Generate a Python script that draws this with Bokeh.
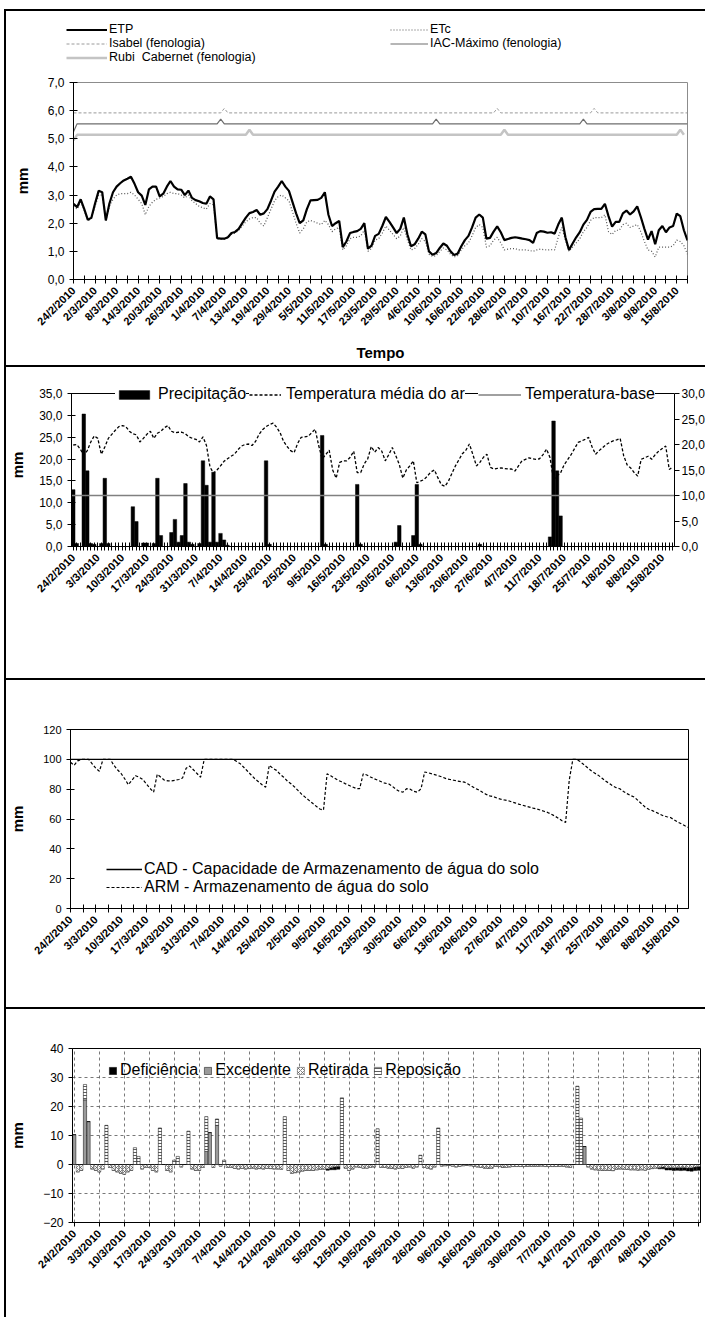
import math
from bokeh.plotting import figure
from bokeh.models import (Range1d, LinearAxis, FixedTicker, CustomJSTickFormatter,
                          Legend, LegendItem, Span)
from bokeh.layouts import column
from bokeh.embed import file_html
from bokeh.resources import INLINE

FONT = "Liberation Sans"

# ---------------- tick labels ----------------
labels_p1 = ["24/2/2010", "2/3/2010", "8/3/2010", "14/3/2010", "20/3/2010", "26/3/2010",
             "1/4/2010", "7/4/2010", "13/4/2010", "19/4/2010", "29/4/2010", "5/5/2010",
             "11/5/2010", "17/5/2010", "23/5/2010", "29/5/2010", "4/6/2010", "10/6/2010",
             "16/6/2010", "22/6/2010", "28/6/2010", "4/7/2010", "10/7/2010", "16/7/2010",
             "22/7/2010", "28/7/2010", "3/8/2010", "9/8/2010", "15/8/2010"]
labels_p23 = ["24/2/2010", "3/3/2010", "10/3/2010", "17/3/2010", "24/3/2010", "31/3/2010",
              "7/4/2010", "14/4/2010", "25/4/2010", "2/5/2010", "9/5/2010", "16/5/2010",
              "23/5/2010", "30/5/2010", "6/6/2010", "13/6/2010", "20/6/2010", "27/6/2010",
              "4/7/2010", "11/7/2010", "18/7/2010", "25/7/2010", "1/8/2010", "8/8/2010",
              "15/8/2010"]
labels_p4 = ["24/2/2010", "3/3/2010", "10/3/2010", "17/3/2010", "24/3/2010", "31/3/2010",
             "7/4/2010", "14/4/2010", "21/4/2010", "28/4/2010", "5/5/2010", "12/5/2010",
             "19/5/2010", "26/5/2010", "2/6/2010", "9/6/2010", "16/6/2010", "23/6/2010",
             "30/6/2010", "7/7/2010", "14/7/2010", "21/7/2010", "28/7/2010", "4/8/2010",
             "11/8/2010"]

# ---------------- panel 1: ETP / ETc (mm) ----------------
etp = [2.69, 2.57, 2.85, 2.50, 2.12, 2.20, 2.70, 3.15, 3.10, 2.10,
       2.70, 3.10, 3.30, 3.42, 3.52, 3.58, 3.65, 3.40, 3.10, 2.98,
       2.65, 3.20, 3.30, 3.30, 2.95, 3.05, 3.30, 3.50, 3.30, 3.20,
       3.19, 3.00, 3.16, 2.90, 2.82, 2.78, 2.72, 2.69, 2.95, 2.85,
       1.47, 1.45, 1.45, 1.50, 1.65, 1.69, 1.80, 2.00, 2.20, 2.36,
       2.40, 2.47, 2.30, 2.35, 2.50, 2.80, 3.12, 3.30, 3.50, 3.30,
       3.15, 2.75, 2.35, 2.00, 2.10, 2.50, 2.81, 2.82, 2.83, 2.90,
       3.10, 2.30, 1.90, 2.00, 2.08, 1.15, 1.35, 1.65, 1.69, 1.72,
       1.80, 2.00, 1.10, 1.20, 1.55, 1.62, 1.90, 2.22, 2.05, 1.85,
       1.65, 1.80, 2.20, 1.60, 1.18, 1.25, 1.45, 1.70, 1.60, 1.00,
       0.88, 0.94, 1.12, 1.28, 1.20, 1.00, 0.87, 0.92, 1.18, 1.40,
       1.55, 1.85, 2.20, 2.31, 2.20, 1.45, 1.48, 1.70, 1.89, 1.68,
       1.40, 1.44, 1.48, 1.50, 1.48, 1.45, 1.43, 1.40, 1.30, 1.65,
       1.72, 1.70, 1.66, 1.68, 1.63, 1.95, 2.20, 1.50, 1.05, 1.28,
       1.50, 1.68, 1.95, 2.12, 2.40, 2.50, 2.51, 2.51, 2.69, 2.25,
       1.88, 2.05, 2.05, 2.35, 2.45, 2.31, 2.42, 2.60, 2.22, 1.80,
       1.42, 1.72, 1.25, 1.75, 1.90, 1.68, 1.85, 1.90, 2.34, 2.25,
       1.75, 1.39]
etc = [2.60, 2.50, 2.75, 2.45, 2.10, 2.15, 2.60, 3.00, 3.00, 2.10,
       2.60, 2.85, 3.00, 3.05, 3.05, 3.05, 3.10, 3.00, 2.85, 2.70,
       2.30, 2.60, 2.75, 2.85, 2.90, 2.95, 3.05, 3.10, 3.05, 3.05,
       3.00, 2.90, 3.00, 2.80, 2.70, 2.60, 2.55, 2.50, 2.70, 2.65,
       1.45, 1.43, 1.43, 1.48, 1.60, 1.65, 1.75, 1.90, 2.05, 2.15,
       2.20, 2.20, 2.00, 1.90, 2.20, 2.50, 2.80, 2.95, 3.00, 2.90,
       2.80, 2.40, 2.00, 1.65, 1.80, 2.05, 2.10, 2.05, 2.00, 1.95,
       2.10, 1.95, 1.70, 1.80, 1.85, 1.05, 1.20, 1.45, 1.50, 1.50,
       1.55, 1.75, 1.00, 1.10, 1.40, 1.45, 1.65, 1.90, 1.75, 1.60,
       1.45, 1.55, 1.85, 1.40, 1.05, 1.10, 1.25, 1.45, 1.35, 0.90,
       0.82, 0.85, 1.00, 1.12, 1.05, 0.90, 0.80, 0.85, 1.05, 1.20,
       1.30, 1.55, 1.85, 1.95, 1.85, 1.15, 1.20, 1.40, 1.50, 1.30,
       1.05, 1.08, 1.10, 1.10, 1.05, 1.05, 1.05, 1.03, 1.00, 1.05,
       1.08, 1.06, 1.05, 1.06, 1.05, 1.50, 1.85, 1.40, 1.00, 1.15,
       1.30, 1.45, 1.70, 1.85, 2.10, 2.20, 2.20, 2.20, 2.30, 1.70,
       1.60, 1.75, 1.75, 1.95, 2.00, 1.85, 1.90, 1.95, 1.70, 1.35,
       1.05, 1.00, 0.80, 1.15, 1.15, 1.15, 1.15, 1.20, 1.40, 1.35,
       1.20, 0.90]
# phenology reference lines (day index, value)
isabel_day = [0, 41, 42, 43, 117, 118, 119, 144, 145, 146, 171]
isabel_val = [5.92, 5.92, 6.08, 5.92, 5.92, 6.08, 5.92, 5.92, 6.08, 5.92, 5.92]
iac_day = [0, 1, 40, 41, 42, 100, 101, 102, 141, 142, 143, 171]
iac_val = [5.25, 5.53, 5.53, 5.70, 5.53, 5.53, 5.70, 5.53, 5.53, 5.70, 5.53, 5.53]
rubi_day = [0, 1, 48, 49, 50, 119, 120, 121, 168, 169, 170]
rubi_val = [4.95, 5.14, 5.14, 5.32, 5.14, 5.14, 5.32, 5.14, 5.14, 5.32, 5.14]

# ---------------- panel 2: precipitation (mm) and temperature (°C) ----------------
precip = [13.0, 0.7, 0.0, 30.3, 17.3, 0.7, 0.5, 0.0, 0.7, 15.6,
          0.7, 0.0, 0.0, 0.0, 0.0, 0.0, 0.0, 9.1, 5.7, 0.0,
          0.8, 0.8, 0.0, 0.7, 15.6, 2.5, 0.0, 0.0, 3.2, 6.2,
          1.0, 2.5, 14.4, 1.0, 0.5, 0.0, 0.7, 19.6, 14.0, 1.0,
          17.0, 1.0, 3.0, 1.5, 0.3, 0.0, 0.0, 0.0, 0.0, 0.0,
          0.0, 0.0, 0.0, 0.0, 0.0, 19.6, 0.5, 0.0, 0.0, 0.0,
          0.0, 0.0, 0.0, 0.0, 0.0, 0.0, 0.0, 0.0, 0.0, 0.0,
          0.0, 25.4, 0.5, 0.0, 0.0, 0.0, 0.0, 0.0, 0.0, 0.0,
          0.0, 14.2, 0.5, 0.0, 0.0, 0.0, 0.0, 0.0, 0.0, 0.0,
          0.0, 0.0, 1.0, 4.8, 0.0, 0.0, 0.0, 2.5, 14.2, 0.5,
          0.0, 0.0, 0.0, 0.0, 0.0, 0.0, 0.0, 0.0, 0.0, 0.0,
          0.0, 0.0, 0.0, 0.0, 0.0, 0.0, 0.5, 0.0, 0.0, 0.0,
          0.0, 0.0, 0.0, 0.0, 0.0, 0.0, 0.0, 0.0, 0.0, 0.0,
          0.0, 0.0, 0.0, 0.0, 0.0, 0.0, 2.2, 28.7, 17.3, 7.0,
          0.0, 0.0, 0.0, 0.0, 0.0, 0.0, 0.0, 0.0, 0.0, 0.0,
          0.0, 0.0, 0.0, 0.0, 0.0, 0.0, 0.0, 0.0, 0.0, 0.0,
          0.0, 0.0, 0.0, 0.0, 0.0, 0.0, 0.0, 0.0, 0.0, 0.0,
          0.0, 0.0]
temp = [19.9, 20.0, 19.1, 17.9, 18.8, 20.5, 21.7, 21.2, 18.1, 19.5,
        21.2, 22.0, 22.8, 23.5, 23.7, 23.5, 22.6, 22.1, 21.9, 20.5,
        21.2, 22.0, 22.6, 21.2, 22.2, 22.6, 23.3, 23.7, 22.6, 22.3,
        22.4, 22.4, 22.1, 21.5, 21.2, 21.0, 20.5, 21.5, 19.8, 15.6,
        14.4, 15.0, 15.8, 16.7, 17.2, 17.7, 18.1, 19.0, 19.7, 20.0,
        20.1, 19.8, 20.6, 22.0, 22.9, 23.5, 23.9, 24.2, 23.4, 22.3,
        20.6, 19.6, 18.8, 18.4, 20.2, 21.4, 21.5, 21.6, 22.3, 23.0,
        19.8, 17.2, 18.0, 18.9, 15.0, 13.4, 16.5, 16.8, 16.8, 17.5,
        18.7, 14.5, 14.5, 16.2, 17.2, 19.6, 18.5, 19.4, 18.7, 16.8,
        18.0, 19.4, 17.8, 16.1, 13.4, 15.0, 15.8, 16.8, 12.5, 12.8,
        13.1, 13.8, 14.6, 15.0, 13.5, 12.1, 11.8, 12.8, 14.3, 15.8,
        17.0, 18.2, 18.9, 20.1, 18.0, 15.8, 16.5, 17.5, 18.1, 15.5,
        15.2, 15.3, 15.4, 15.3, 15.2, 15.2, 14.8, 15.8, 16.8, 17.1,
        17.4, 17.2, 17.1, 17.2, 18.0, 19.1, 17.4, 13.1, 13.9, 14.4,
        16.0, 17.0, 18.0, 19.2, 20.4, 20.7, 21.0, 21.4, 19.5, 18.1,
        18.8, 19.4, 20.0, 20.4, 20.7, 20.9, 21.2, 17.8, 16.0, 15.4,
        14.5, 13.8, 17.1, 17.4, 17.7, 17.1, 18.0, 18.7, 19.2, 19.7,
        15.1, 15.6]
temp_base = 10.0

# ---------------- panel 3: soil water storage (mm) ----------------
cad = 100.0
arm = [98.0, 96.0, 99.0, 100.0, 100.0, 100.0, 97.0, 94.0, 92.0, 100.0,
       100.0, 100.0, 96.0, 93.0, 90.5, 87.0, 83.0, 86.0, 89.0, 88.0,
       86.5, 83.5, 80.5, 78.0, 90.0, 88.0, 86.0, 85.5, 85.5, 86.0,
       86.5, 87.5, 94.0, 95.5, 93.0, 90.5, 88.0, 100.0, 100.0, 100.0,
       100.0, 100.0, 100.0, 100.0, 100.0, 100.0, 98.5, 97.0, 94.5, 92.0,
       89.5, 87.0, 85.0, 83.0, 81.3, 96.0, 94.0, 92.6, 90.0, 88.0,
       85.5, 83.6, 81.5, 79.0, 76.5, 74.5, 72.5, 70.5, 68.5, 66.7,
       66.0, 90.3, 89.0, 87.5, 86.0, 85.0, 83.7, 82.6, 81.5, 80.5,
       80.3, 90.3, 89.5, 88.2, 87.0, 86.0, 85.0, 84.0, 83.6, 82.0,
       80.0, 78.5, 78.0, 80.3, 80.0, 78.5, 78.0, 80.3, 91.5, 91.0,
       90.3, 89.6, 88.8, 88.0, 87.0, 86.5, 86.0, 85.5, 85.0, 84.7,
       83.5, 82.0, 80.5, 79.5, 78.0, 76.5, 75.5, 75.0, 74.0, 73.3,
       72.8, 72.4, 71.5, 70.8, 70.0, 69.3, 68.6, 68.0, 67.3, 66.7,
       66.0, 65.2, 64.4, 63.3, 62.0, 60.5, 58.8, 57.7, 86.0, 100.0,
       100.0, 98.5, 96.5, 94.5, 92.5, 90.8, 89.4, 87.5, 85.5, 84.0,
       82.3, 81.0, 80.3, 78.5, 77.0, 75.7, 74.7, 72.5, 70.2, 68.0,
       66.5, 65.6, 64.5, 63.3, 62.2, 61.5, 61.0, 59.5, 58.0, 56.8,
       55.5, 54.3]

# ---------------- panel 4: water balance components (mm), every day 24/2 - 18/8 ----------------
excedente = [10.3, 0, 0, 22.3, 14.8, 0, 0, 0, 0, 0,
             0, 0, 0, 0, 0, 0, 0, 0, 0, 0,
             0, 0, 0, 0, 0, 0, 0, 0, 0, 0,
             0, 0, 0, 0, 0, 0, 0, 4.5, 11.0, 0,
             13.5, 0, 0, 0, 0, 0, 0, 0, 0, 0,
             0, 0, 0, 0, 0, 0, 0, 0, 0, 0, 0, 0, 0, 0,
             0, 0, 0, 0, 0, 0, 0, 0, 0, 0,
             0, 0, 0, 0, 0, 0, 0, 0, 0, 0,
             0, 0, 0, 0, 0, 0, 0, 0, 0, 0,
             0, 0, 0, 0, 0, 0, 0, 0, 0, 0,
             0, 0, 0, 0, 0, 0, 0, 0, 0, 0,
             0, 0, 0, 0, 0, 0, 0, 0, 0, 0,
             0, 0, 0, 0, 0, 0, 0, 0, 0, 0,
             0, 0, 0, 0, 0, 0, 0, 0, 0, 6.2,
             0, 0, 0, 0, 0, 0, 0, 0, 0, 0,
             0, 0, 0, 0, 0, 0, 0, 0, 0, 0,
             0, 0, 0, 0, 0, 0, 0, 0, 0, 0,
             0, 0]
reposicao = [0, 0, 0, 5.3, 0, 0, 0, 0, 0, 13.5,
             0, 0, 0, 0, 0, 0, 0, 5.8, 2.8, 0,
             0, 0, 0, 0, 12.6, 0, 0, 0, 1.5, 2.8,
             0, 0, 11.5, 0, 0, 0, 0, 12.0, 0, 0,
             2.2, 0, 1.5, 0, 0, 0, 0, 0, 0, 0,
             0, 0, 0, 0, 0, 0, 0, 0, 0, 16.5, 0, 0, 0, 0,
             0, 0, 0, 0, 0, 0, 0, 0, 0, 0,
             0, 23.0, 0, 0, 0, 0, 0, 0, 0, 0,
             0, 12.3, 0, 0, 0, 0, 0, 0, 0, 0,
             0, 0, 0, 3.2, 0, 0, 0, 0, 12.6, 0,
             0, 0, 0, 0, 0, 0, 0, 0, 0, 0,
             0, 0, 0, 0, 0, 0, 0, 0, 0, 0,
             0, 0, 0, 0, 0, 0, 0, 0, 0, 0,
             0, 0, 0, 0, 0, 0, 0, 27.0, 16.0, 0,
             0, 0, 0, 0, 0, 0, 0, 0, 0, 0,
             0, 0, 0, 0, 0, 0, 0, 0, 0, 0,
             0, 0, 0, 0, 0, 0, 0, 0, 0, 0,
             0, 0]
retirada = [0, -2.5, -2.0, 0, 0, -1.5, -2.0, -2.5, -1.5, 0,
            -1.0, -2.0, -2.5, -3.0, -3.3, -2.5, -2.0, 0, 0, -1.5,
            -1.0, -1.0, -2.0, -2.5, 0, 0, -2.0, -2.5, 0, 0,
            -0.8, 0, 0, -1.5, -2.0, -2.0, -1.0, 0, 0, -1.0,
            0, -0.5, 0, -1.0, -1.0, -1.3, -1.5, -1.3, -1.5, -1.4,
            -1.2, -1.5, -1.4, -1.5, -1.3, -1.4, -1.5, -1.5, -1.6, 0, -2.0, -3.0, -2.8, -2.5,
            -2.2, -2.0, -2.0, -2.0, -1.8, -1.6, -1.6, -1.5, -1.0, -0.8,
            -0.6, 0, -1.2, -2.0, -1.5, -0.8, -1.0, -1.2, -1.2, -1.0,
            -0.8, 0, -1.0, -1.0, -1.2, -1.3, -1.5, -1.2, -1.3, -1.0,
            -0.8, -1.2, -0.8, 0, -1.0, -1.2, -1.5, -0.8, 0, -0.5,
            -0.4, -0.3, -0.5, -0.8, -0.6, -0.4, -0.3, -0.4, -0.6, -0.8,
            -1.0, -1.2, -1.3, -1.2, -0.6, -0.7, -0.9, -1.0, -0.8, -0.7,
            -0.7, -0.7, -0.7, -0.6, -0.6, -0.6, -0.6, -0.5, -0.7, -0.7,
            -0.7, -0.7, -0.6, -0.6, -0.8, -1.0, 0, 0, 0, 0,
            -0.8, -1.5, -1.8, -1.9, -2.0, -2.0, -2.0, -2.1, -1.6, -1.5,
            -1.6, -1.7, -1.8, -1.8, -1.9, -1.8, -1.9, -1.6, -1.4, -1.2,
            -1.0, -0.9, -1.1, -1.0, -1.1, -1.0, -1.0, -1.0, -1.2, -1.1,
            -0.9, -0.7]
deficiencia = [0, 0, 0, 0, 0, 0, 0, 0, 0, 0,
               0, 0, 0, 0, 0, 0, 0, 0, 0, 0,
               0, 0, 0, 0, 0, 0, 0, 0, 0, 0,
               0, 0, 0, 0, 0, 0, 0, 0, 0, 0,
               0, 0, 0, 0, 0, 0, 0, 0, 0, 0,
               0, 0, 0, 0, 0, 0, 0, 0, 0, 0, 0, 0, 0, 0,
               0, 0, 0, 0, 0, 0, 0, -0.5, -0.8, -1.0,
               -1.0, 0, 0, 0, 0, 0, 0, 0, 0, 0,
               0, 0, 0, 0, 0, 0, 0, 0, 0, 0,
               0, 0, 0, 0, 0, 0, 0, 0, 0, 0,
               0, 0, 0, 0, 0, 0, 0, 0, 0, 0,
               0, 0, 0, 0, 0, 0, 0, 0, 0, 0,
               0, 0, 0, 0, 0, 0, 0, 0, 0, 0,
               0, 0, 0, 0, 0, 0, 0, 0, 0, 0,
               0, 0, 0, 0, 0, 0, 0, 0, 0, 0,
               0, 0, 0, 0, 0, 0, 0, 0, 0, 0,
               -0.5, -0.6, -0.8, -0.9, -1.0, -1.0, -1.1, -1.0, -1.0, -1.2,
               -1.2, -1.3]

N = len(etp)
for name, arr in [("etc", etc), ("precip", precip), ("temp", temp), ("arm", arm)]:
    assert len(arr) == N, (name, len(arr))
days = list(range(N))
N4 = len(retirada)
for name, arr in [("excedente", excedente), ("reposicao", reposicao),
                  ("deficiencia", deficiencia)]:
    assert len(arr) == N4, (name, len(arr))
days4 = list(range(N4))

W = 701
BORDER = "2px solid black"


def date_fmt(labels, step):
    return CustomJSTickFormatter(args=dict(labels=labels, step=step), code="""
        const i = Math.round(tick / step);
        if (Math.abs(tick - i * step) < 1e-6 && i >= 0 && i < labels.length) { return labels[i]; }
        return "";
    """)


def comma_fmt(digits):
    return CustomJSTickFormatter(args=dict(d=digits),
                                 code="return tick.toFixed(d).replace('.', ',');")


def style_axis(ax, fs="11px", tin=4, tout=4, bold=False):
    ax.axis_line_color = "black"
    ax.axis_line_width = 1
    ax.major_tick_line_color = "black"
    ax.minor_tick_line_color = None
    ax.major_tick_in = tin
    ax.major_tick_out = tout
    ax.major_label_text_font = FONT
    ax.major_label_text_font_size = fs
    ax.major_label_text_font_style = "bold" if bold else "normal"
    ax.major_label_text_color = "black"
    ax.axis_label_text_font = FONT
    ax.axis_label_text_font_style = "bold"
    ax.axis_label_text_font_size = "15px"
    ax.axis_label_text_color = "black"


def base_fig(h, xr, yr, left, right, top, bottom, top_border=True):
    p = figure(width=W, height=h, output_backend="svg", toolbar_location=None,
               x_range=xr, y_range=yr, min_border_left=left, min_border_right=right,
               min_border_top=top, min_border_bottom=bottom)
    p.frame_align = False
    st = {"border-left": BORDER}
    if top_border:
        st["border-top"] = BORDER
    p.styles = st
    p.grid.visible = False
    p.background_fill_color = "white"
    p.border_fill_color = "white"
    return p


def make_legend(items, loc, fs, gw, gh, standoff=3, orientation="vertical", spacing=0,
                padding=0, bg=None):
    lg = Legend(items=[LegendItem(label=l, renderers=[r]) for l, r in items],
                location=loc, orientation=orientation)
    lg.label_text_font = FONT
    lg.label_text_font_size = fs
    lg.label_text_color = "black"
    lg.border_line_color = None
    lg.padding = padding
    lg.margin = 0
    lg.spacing = spacing
    lg.label_standoff = standoff
    lg.glyph_width = gw
    lg.glyph_height = gh
    lg.label_height = gh
    if bg is None:
        lg.background_fill_alpha = 0
    else:
        lg.background_fill_color = bg
        lg.background_fill_alpha = 1
    return lg


# ================= Panel 1 (legend strip + chart) =================
p1_leg = figure(width=W, height=60, output_backend="svg", toolbar_location=None,
                x_range=Range1d(0, 1), y_range=Range1d(0, 1),
                x_axis_location=None, y_axis_location=None, min_border=0)
p1_leg.frame_align = False
p1_leg.styles = {"border-left": BORDER, "border-top": BORDER}
p1_leg.grid.visible = False
p1_leg.outline_line_color = None
ETP_STYLE = dict(line_color="black", line_width=2.2)
ETC_STYLE = dict(line_color="#555555", line_width=1.2, line_dash="1 2")
ISA_STYLE = dict(line_color="#9a9a9a", line_width=1, line_dash="3 2")
IAC_STYLE = dict(line_color="#6e6e6e", line_width=1.2)
RUBI_STYLE = dict(line_color="#c4c4c4", line_width=2.5)
# legend proxies: lines lying outside the strip's ranges, only their legend glyphs show
proxy_x, proxy_y = [-3, -2], [-3, -2]
k_etp = p1_leg.line(proxy_x, proxy_y, **ETP_STYLE)
k_etc = p1_leg.line(proxy_x, proxy_y, **ETC_STYLE)
k_isa = p1_leg.line(proxy_x, proxy_y, **ISA_STYLE)
k_iac = p1_leg.line(proxy_x, proxy_y, **IAC_STYLE)
k_rubi = p1_leg.line(proxy_x, proxy_y, **RUBI_STYLE)
for lbl, rr, loc, gw in [("ETP", k_etp, (60, 35), 41),
                         ("Isabel (fenologia)", k_isa, (60, 21), 41),
                         ("Rubi  Cabernet (fenologia)", k_rubi, (60, 7), 41),
                         ("ETc", k_etc, (384, 35), 38),
                         ("IAC-Máximo (fenologia)", k_iac, (384, 21), 38)]:
    p1_leg.add_layout(make_legend([(lbl, rr)], loc, "12.5px", gw, 11, standoff=2))

p1 = base_fig(296, Range1d(0, N - 1), Range1d(0, 7), 67, 20, 13, 86, top_border=False)
p1.outline_line_color = "#8c8c8c"
p1.line(days, etc, **ETC_STYLE)
p1.line(days, etp, **ETP_STYLE)
p1.line(isabel_day, isabel_val, **ISA_STYLE)
p1.line(iac_day, iac_val, **IAC_STYLE)
p1.line(rubi_day, rubi_val, **RUBI_STYLE)
style_axis(p1.xaxis[0], fs="11px", bold=True)
style_axis(p1.yaxis[0], fs="12px")
p1.xaxis.ticker = FixedTicker(ticks=list(range(0, N, 3)))
p1.xaxis.formatter = date_fmt(labels_p1, 6)
p1.xaxis.major_label_orientation = math.pi / 4
p1.xaxis.axis_label = "Tempo"
p1.xaxis.axis_label_standoff = 9
p1.yaxis.ticker = FixedTicker(ticks=list(range(0, 8)))
p1.yaxis.formatter = comma_fmt(1)
p1.yaxis.axis_label = "mm"
p1.yaxis.axis_label_standoff = 14

# ================= Panel 2 =================
P2_H, P2_TOP, P2_BOT, P2_GAP = 313, 16, 134, 10
p2_frame = P2_H - P2_TOP - P2_BOT
p2_scale = p2_frame / (p2_frame - P2_GAP)     # frame extends 10px above the 35 mm line
precip_max, temp_max = 35, 30
p2 = base_fig(P2_H, Range1d(-0.5, N - 0.5), Range1d(0, precip_max * p2_scale), 65, 25,
              P2_TOP, P2_BOT)
p2.outline_line_color = None
p2.extra_y_ranges = {"temp": Range1d(0, temp_max * p2_scale)}
p2.add_layout(Span(location=precip_max, dimension="width", line_color="black", line_width=1))
r_prec = p2.vbar(x=days, top=precip, width=1.0, fill_color="black", line_color="black",
                 line_width=0.5)
r_base = p2.line([days[0] - 0.5, days[-1] + 0.5], [temp_base, temp_base],
                 y_range_name="temp", line_color="#808080", line_width=1.5)
r_temp = p2.line(days, temp, y_range_name="temp", line_color="black", line_width=1.3,
                 line_dash="3 2")
style_axis(p2.xaxis[0], fs="11px", bold=True)
style_axis(p2.yaxis[0], fs="12px")
p2.xaxis.ticker = FixedTicker(ticks=days)
p2.xaxis.formatter = date_fmt(labels_p23, 7)
p2.xaxis.major_label_orientation = math.pi / 4
p2.yaxis.ticker = FixedTicker(ticks=list(range(0, precip_max + 1, 5)))
p2.yaxis.formatter = comma_fmt(1)
p2.yaxis.bounds = (0, precip_max)
p2.yaxis.axis_label = "mm"
p2.yaxis.axis_label_standoff = 10
ax_r = LinearAxis(y_range_name="temp", ticker=FixedTicker(ticks=list(range(0, temp_max + 1, 5))),
                  formatter=comma_fmt(1), bounds=(0, temp_max))
style_axis(ax_r, fs="12px", tin=0, tout=5)
ax_r.major_label_standoff = 2
p2.add_layout(ax_r, "right")
for lbl, rr, vx, gw, so in [("Precipitação", r_prec, 44, 38, 5),
                            ("Temperatura média do ar", r_temp, 178, 32, 5),
                            ("Temperatura-base", r_base, 407, 43, 4)]:
    p2.add_layout(make_legend([(lbl, rr)], (vx, 143), "16px", gw, 11, standoff=so,
                              padding=2, bg="white"))

# ================= Panel 3 =================
p3 = base_fig(329, Range1d(0, N - 1), Range1d(0, 120), 64, 19, 49, 101)
p3.outline_line_color = "black"
r_cad = p3.line([days[0], days[-1]], [cad, cad], line_color="black", line_width=1.3)
r_arm = p3.line(days, arm, line_color="black", line_width=1.2, line_dash="3 2")
style_axis(p3.xaxis[0], fs="11px", bold=True)
style_axis(p3.yaxis[0], fs="11px")
p3.xaxis.ticker = FixedTicker(ticks=[i * 3.5 for i in range(0, 49)])
p3.xaxis.formatter = date_fmt(labels_p23, 7)
p3.xaxis.major_label_orientation = math.pi / 4
p3.yaxis.ticker = FixedTicker(ticks=list(range(0, 121, 20)))
p3.yaxis.axis_label = "mm"
p3.yaxis.axis_label_standoff = 14
p3.add_layout(make_legend([("CAD - Capacidade de Armazenamento de água do solo", r_cad),
                           ("ARM - Armazenamento de água do solo", r_arm)],
                          (36, 12), "16px", 36, 16, standoff=2))

# ================= Panel 4 =================
p4 = base_fig(310, Range1d(-0.5, N4 - 0.5), Range1d(-20, 40), 64, 7, 39, 97)
p4.outline_line_color = "black"
rep_top = [e + r for e, r in zip(excedente, reposicao)]
def_top = [r + d for r, d in zip(retirada, deficiencia)]
p4.grid.visible = True
for g in (p4.xgrid[0], p4.ygrid[0]):
    g.grid_line_color = "#555555"
    g.grid_line_dash = "3 3"
    g.grid_line_width = 0.8
r_def = p4.vbar(x=days4, bottom=retirada, top=def_top, width=0.9, fill_color="black",
                line_color="black", line_width=0.5)
r_exc = p4.vbar(x=days4, bottom=0, top=excedente, width=0.9, fill_color="#9a9a9a",
                line_color="black", line_width=0.5)
r_ret = p4.vbar(x=days4, bottom=0, top=retirada, width=0.9, fill_color="white",
                line_color="#444444", line_width=0.5, hatch_pattern="x", hatch_color="#555555",
                hatch_scale=4, hatch_weight=0.7)
r_rep = p4.vbar(x=days4, bottom=excedente, top=rep_top, width=0.9, fill_color="white",
                line_color="black", line_width=0.5, hatch_pattern="-", hatch_color="#333333",
                hatch_scale=3, hatch_weight=0.8)
style_axis(p4.xaxis[0], fs="11px", tin=0, tout=4, bold=True)
style_axis(p4.yaxis[0], fs="12px", tin=0, tout=4)
p4.xaxis.ticker = FixedTicker(ticks=list(range(0, N4, 7)))
p4.xaxis.formatter = date_fmt(labels_p4, 7)
p4.xaxis.major_label_orientation = math.pi / 4
p4.yaxis.ticker = FixedTicker(ticks=list(range(-20, 41, 10)))
p4.yaxis.axis_label = "mm"
p4.yaxis.axis_label_standoff = 14
p4.add_layout(make_legend([("Deficiência", r_def), ("Excedente", r_exc),
                           ("Retirada", r_ret), ("Reposição", r_rep)],
                          (36, 143), "16px", 9, 9, standoff=3, orientation="horizontal",
                          spacing=5))

layout = column(p1_leg, p1, p2, p3, p4, spacing=0, margin=(9, 0, 0, 4))
open("out.html", "w").write(file_html(layout, INLINE))
